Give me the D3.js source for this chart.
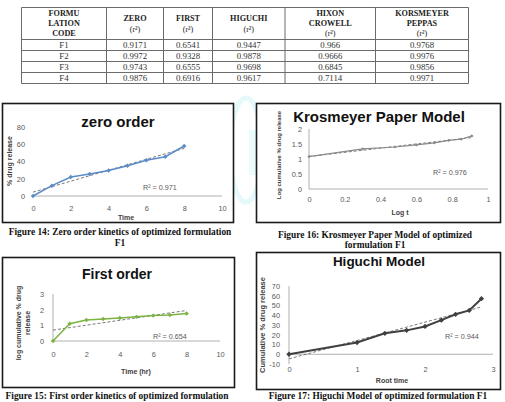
<!DOCTYPE html>
<head>
  <meta charset="utf-8">
  <script src="https://d3js.org/d3.v7.min.js"></script>
  <style>
    body {
      margin: 0;
      background: #fff;
    }

    svg {
      display: block;
    }

    .tick text {
      fill: #595959;
      font-family: "Liberation Sans", Arial, sans-serif;
      font-size: 7.4px;
    }

    .caption {
      font-family: "Liberation Serif", serif;
      font-weight: bold;
      font-size: 9.4px;
      fill: #111;
      text-anchor: middle;
    }
  </style>
</head>

<body>
  <script>
    // ---- table values
    var tableHeaders = [["FORMU", "LATION", "CODE"], ["ZERO", "(r²)"], ["FIRST", "(r²)"],
      ["HIGUCHI", "(r²)"], ["HIXON", "CROWELL", "(r²)"], ["KORSMEYER", "PEPPAS", "(r²)"]];
    var formulations = ["F1", "F2", "F3", "F4"];
    var zeroR2 = [0.9171, 0.9972, 0.9743, 0.9876];
    var firstR2 = [0.6541, 0.9328, 0.6555, 0.6916];
    var higuchiR2 = [0.9447, 0.9878, 0.9698, 0.9617];
    var hixonR2 = [0.966, 0.9666, 0.6845, 0.7114];
    var korsmeyerR2 = [0.9768, 0.9976, 0.9856, 0.9971];

    // ---- chart series
    var time = [0, 1, 2, 3, 4, 5, 6, 7, 8];
    var zeroRelease = [0, 12, 22, 25.5, 29.5, 35, 41.5, 45.5, 58];
    var firstLogRelease = [0, 1.1, 1.34, 1.41, 1.47, 1.54, 1.62, 1.66, 1.76];
    var logTime = [0, 0.30, 0.48, 0.60, 0.70, 0.78, 0.85, 0.91];
    var kpLogRelease = [1.08, 1.34, 1.40, 1.47, 1.54, 1.62, 1.66, 1.77];
    var rootTime = [0, 1, 1.41, 1.73, 2, 2.24, 2.45, 2.65, 2.83];
    var higuchiRelease = [0, 12, 21.5, 24.5, 28.5, 35, 41, 45, 57];

    // ---- tick labels
    var zeroXTicks = [0, 2, 4, 6, 8, 10], zeroYTicks = [0, 20, 40, 60, 80];
    var firstXTicks = [0, 2, 4, 6, 8, 10], firstYTicks = [0, 1, 2, 3];
    var kpXTicks = [0, 0.2, 0.4, 0.6, 0.8, 1], kpYTicks = [0, 0.5, 1, 1.5, 2];
    var higXTicks = [0, 1, 2, 3], higYTicks = [-10, 0, 10, 20, 30, 40, 50, 60, 70];

    var svg = d3.select("body").append("svg")
      .attr("width", 505)
      .attr("height", 402);

    // faint watermark behind everything
    svg.append("ellipse")
      .attr("cx", 246).attr("cy", 150).attr("rx", 16).attr("ry", 52)
      .style("fill", "none").style("stroke", "#e4f9f9").style("stroke-width", 5);
    svg.append("rect")
      .attr("x", 249).attr("y", 130).attr("width", 7).attr("height", 45)
      .style("fill", "#e9fbfb");

    // ---------- table
    var colX = [21.5, 106.5, 163.5, 212.5, 285, 375.5, 468.5];
    var rowY = [7.5, 39.5, 50.5, 61.5, 72.5, 83.5];
    var table = svg.append("g");
    var lineColor = "#6b6b6b";
    rowY.forEach(function (y) {
      table.append("line").attr("x1", colX[0]).attr("x2", colX[6]).attr("y1", y).attr("y2", y)
        .style("stroke", lineColor).style("stroke-width", 1);
    });
    colX.forEach(function (x) {
      table.append("line").attr("x1", x).attr("x2", x).attr("y1", rowY[0]).attr("y2", rowY[5])
        .style("stroke", lineColor).style("stroke-width", 1);
    });
    tableHeaders.forEach(function (lines, i) {
      var cx = (colX[i] + colX[i + 1]) / 2;
      var gap = lines.length === 3 ? 10 : 11;
      var start = 23.5 - gap * (lines.length - 1) / 2;
      lines.forEach(function (s, j) {
        table.append("text")
          .attr("x", cx).attr("y", start + j * gap)
          .attr("dy", "0.35em")
          .style("text-anchor", "middle")
          .style("font-family", "Liberation Serif, serif")
          .style("font-weight", s.charAt(0) === "(" ? "normal" : "bold")
          .style("font-size", "8.2px")
          .style("fill", "#222")
          .text(s);
      });
    });
    var columns = [formulations, zeroR2, firstR2, higuchiR2, hixonR2, korsmeyerR2];
    columns.forEach(function (col, i) {
      var cx = (colX[i] + colX[i + 1]) / 2;
      col.forEach(function (v, r) {
        table.append("text")
          .attr("x", cx).attr("y", (rowY[r + 1] + rowY[r + 2]) / 2)
          .attr("dy", "0.35em")
          .style("text-anchor", "middle")
          .style("font-family", "Liberation Serif, serif")
          .style("font-size", "8.8px")
          .style("fill", "#333")
          .text(String(v));
      });
    });

    // ---------- chart helper
    function regression(xs, ys) {
      var mx = d3.mean(xs), my = d3.mean(ys);
      var sxy = d3.sum(xs, function (x, i) { return (x - mx) * (ys[i] - my); });
      var sxx = d3.sum(xs, function (x) { return (x - mx) * (x - mx); });
      var b = sxy / sxx;
      return { a: my - b * mx, b: b };
    }

    function drawChart(c) {
      var g = svg.append("g");
      g.append("rect")
        .attr("x", c.box[0]).attr("y", c.box[1])
        .attr("width", c.box[2]).attr("height", c.box[3])
        .style("fill", "#fff").style("stroke", "#1a1a1a").style("stroke-width", 1.6);

      g.append("text")
        .attr("x", c.titleX).attr("y", c.titleY)
        .style("text-anchor", "middle")
        .style("font-family", "Liberation Sans, Arial, sans-serif")
        .style("font-weight", "bold")
        .style("font-size", c.titleSize + "px")
        .style("fill", "#111")
        .text(c.title);

      var x = d3.scaleLinear().domain(c.xDomain).range(c.xRange);
      var y = d3.scaleLinear().domain(c.yDomain).range(c.yRange);

      // horizontal axis line at y = 0
      g.append("line")
        .attr("x1", x(c.xDomain[0])).attr("x2", x(c.xDomain[1]))
        .attr("y1", y(0)).attr("y2", y(0))
        .style("stroke", "#b0b0b0").style("stroke-width", 1);
      if (c.yLine) {
        g.append("line")
          .attr("x1", x(0)).attr("x2", x(0))
          .attr("y1", y(c.yDomain[0])).attr("y2", y(c.yDomain[1]))
          .style("stroke", "#b0b0b0").style("stroke-width", 1);
      }

      var xAxis = g.append("g")
        .attr("transform", "translate(0," + y(c.yDomain[0]) + ")")
        .call(d3.axisBottom(x).tickValues(c.xTicks).tickSize(0).tickPadding(c.xPad)
          .tickFormat(function (d) { return String(d); }));
      xAxis.select(".domain").remove();

      var yAxis = g.append("g")
        .attr("transform", "translate(" + x(0) + ",0)")
        .call(d3.axisLeft(y).tickValues(c.yTicks).tickSize(0).tickPadding(c.yPad)
          .tickFormat(function (d) { return String(d); }));
      yAxis.select(".domain").remove();

      // trendline
      var fit = regression(c.xs, c.ys);
      var x0 = d3.min(c.xs), x1 = d3.max(c.xs);
      g.append("line")
        .attr("x1", x(x0)).attr("y1", y(fit.a + fit.b * x0))
        .attr("x2", x(x1)).attr("y2", y(fit.a + fit.b * x1))
        .style("stroke", "#555").style("stroke-width", 0.8)
        .style("stroke-dasharray", "3,2");

      var pts = c.xs.map(function (v, i) { return [v, c.ys[i]]; });
      g.append("path")
        .datum(pts)
        .attr("d", d3.line().x(function (d) { return x(d[0]); }).y(function (d) { return y(d[1]); }))
        .style("fill", "none").style("stroke", c.color).style("stroke-width", c.lineWidth);

      g.selectAll(".pt")
        .data(pts)
        .enter().append("path")
        .attr("class", "pt")
        .attr("transform", function (d) { return "translate(" + x(d[0]) + "," + y(d[1]) + ") rotate(45)"; })
        .attr("d", d3.symbol().type(d3.symbolSquare).size(c.markerSize))
        .style("fill", c.color);

      g.append("text")
        .attr("x", c.r2[0]).attr("y", c.r2[1])
        .style("font-family", "Liberation Sans, Arial, sans-serif")
        .style("font-size", "7.2px")
        .style("fill", "#595959")
        .text(c.r2Text);

      g.append("text")
        .attr("x", c.xTitle[0]).attr("y", c.xTitle[1])
        .style("text-anchor", "middle")
        .style("font-family", "Liberation Sans, Arial, sans-serif")
        .style("font-weight", "bold")
        .style("font-size", "7px")
        .style("fill", "#404040")
        .text(c.xTitleText);

      c.yTitleLines.forEach(function (s, i) {
        g.append("text")
          .attr("transform", "translate(" + (c.yTitle[0] + i * 9) + "," + c.yTitle[1] + ") rotate(-90)")
          .style("text-anchor", "middle")
          .style("font-family", "Liberation Sans, Arial, sans-serif")
          .style("font-weight", "bold")
          .style("font-size", c.yTitleSize + "px")
          .style("fill", "#404040")
          .text(s);
      });
    }

    // Figure 14: zero order
    drawChart({
      box: [2.5, 103.5, 231, 119], title: "zero order", titleX: 118, titleY: 127, titleSize: 15,
      xDomain: [0, 10], xRange: [33, 222], yDomain: [0, 80], yRange: [196, 127],
      xTicks: zeroXTicks, yTicks: zeroYTicks, xPad: 10, yPad: 8, yLine: false,
      xs: time, ys: zeroRelease, color: "#5b8cc8", lineWidth: 1.5, markerSize: 10,
      r2: [143, 190], r2Text: "R² = 0.971",
      xTitle: [126, 220], xTitleText: "Time",
      yTitle: [12, 161], yTitleLines: ["% drug release"], yTitleSize: 7
    });

    // Figure 16: Krosmeyer Paper Model
    drawChart({
      box: [256.5, 103.5, 244, 119], title: "Krosmeyer Paper Model", titleX: 379, titleY: 122, titleSize: 15,
      xDomain: [0, 1], xRange: [309, 488], yDomain: [0, 2], yRange: [189, 129],
      xTicks: kpXTicks, yTicks: kpYTicks, xPad: 8, yPad: 7, yLine: true,
      xs: logTime, ys: kpLogRelease, color: "#8a8a8a", lineWidth: 1.2, markerSize: 5,
      r2: [433, 175], r2Text: "R² = 0.976",
      xTitle: [400, 215], xTitleText: "Log t",
      yTitle: [281, 155], yTitleLines: ["Log cumulative % drug release"], yTitleSize: 6
    });

    // Figure 15: first order
    drawChart({
      box: [2.5, 257.5, 232, 130], title: "First order", titleX: 117, titleY: 279, titleSize: 14,
      xDomain: [0, 10], xRange: [53, 220], yDomain: [0, 3], yRange: [341, 294],
      xTicks: firstXTicks, yTicks: firstYTicks, xPad: 11, yPad: 9, yLine: true,
      xs: time, ys: firstLogRelease, color: "#7cb342", lineWidth: 1.5, markerSize: 10,
      r2: [153, 339], r2Text: "R² = 0.654",
      xTitle: [136, 374], xTitleText: "Time (hr)",
      yTitle: [21, 323], yTitleLines: ["log cumulative % drug", "release"], yTitleSize: 7
    });

    // Figure 17: Higuchi model
    drawChart({
      box: [256.5, 252.5, 244, 137], title: "Higuchi Model", titleX: 379, titleY: 266, titleSize: 13.5,
      xDomain: [0, 3], xRange: [289, 493], yDomain: [-10, 70], yRange: [364, 286],
      xTicks: higXTicks, yTicks: higYTicks, xPad: 3, yPad: 9, yLine: true,
      xs: rootTime, ys: higuchiRelease, color: "#404040", lineWidth: 2, markerSize: 14,
      r2: [445, 339], r2Text: "R² = 0.944",
      xTitle: [392, 383], xTitleText: "Root time",
      yTitle: [265, 325], yTitleLines: ["Cumulative % drug release"], yTitleSize: 7.5
    });

    // ---------- captions
    var captions = [
      { t: "Figure 14: Zero order kinetics of optimized formulation", x: 120, y: 235 },
      { t: "F1", x: 120, y: 246 },
      { t: "Figure 16: Krosmeyer Paper Model of optimized", x: 375, y: 238 },
      { t: "formulation F1", x: 375, y: 248 },
      { t: "Figure 15: First order kinetics of optimized formulation", x: 117, y: 398.5 },
      { t: "Figure 17: Higuchi Model of optimized formulation F1", x: 378, y: 399 }
    ];
    svg.selectAll(".caption")
      .data(captions)
      .enter().append("text")
      .attr("class", "caption")
      .attr("x", function (d) { return d.x; })
      .attr("y", function (d) { return d.y; })
      .text(function (d) { return d.t; });
  </script>
</body>
